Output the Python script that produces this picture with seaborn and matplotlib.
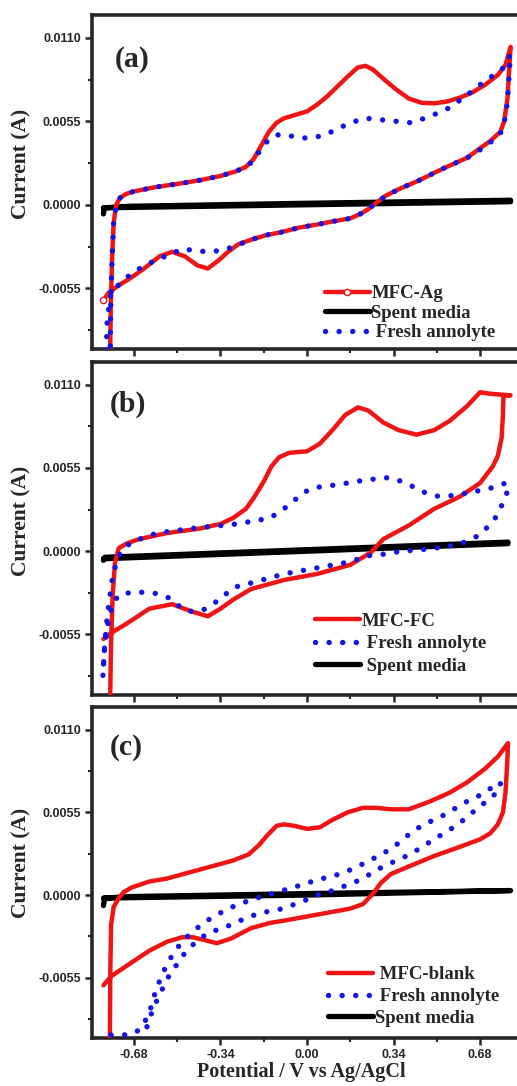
import numpy as np
import pandas as pd
import matplotlib
matplotlib.use("Agg")
import matplotlib.pyplot as plt
from matplotlib.ticker import MultipleLocator, FormatStrFormatter
import seaborn as sns

# ---------------- data (Potential V vs Ag/AgCl, Current A) ----------------
# Panel (a)
a_red_E = [-0.774, -0.771, -0.766, -0.760, -0.750, -0.735, -0.71, -0.68, -0.60, -0.50, -0.42, -0.34,
           -0.28, -0.24, -0.21, -0.18, -0.15, -0.12, -0.09, -0.05, 0.00, 0.04, 0.08, 0.12, 0.16, 0.20,
           0.23, 0.26, 0.30, 0.35, 0.40, 0.45, 0.50, 0.55, 0.60, 0.65, 0.70, 0.75, 0.78, 0.80,
           0.795, 0.788, 0.775, 0.76, 0.72, 0.67, 0.63, 0.55, 0.50, 0.44, 0.37, 0.31, 0.27, 0.24,
           0.21, 0.17, 0.10, 0.04, -0.03, -0.10, -0.16, -0.22, -0.27, -0.31, -0.35, -0.39, -0.43,
           -0.48, -0.53, -0.58, -0.64, -0.70, -0.74, -0.78, -0.80]
a_red_I = [-0.0102, -0.0065, -0.0035, -0.0012, 0.0000, 0.00045, 0.00072, 0.00088, 0.00115, 0.00140,
           0.00162, 0.00190, 0.00220, 0.00250, 0.00300, 0.00390, 0.00480, 0.00540, 0.00570, 0.00590,
           0.00615, 0.00660, 0.00715, 0.00780, 0.00845, 0.00905, 0.00915, 0.00890, 0.00830, 0.00760,
           0.00700, 0.00672, 0.00668, 0.00680, 0.00705, 0.00740, 0.00790, 0.00855, 0.00920, 0.01040,
           0.0090, 0.0070, 0.0055, 0.0048, 0.0042, 0.0036, 0.0031, 0.0025, 0.0021, 0.0016, 0.0011,
           0.0006, 0.0001, -0.0003, -0.0006, -0.0009, -0.0011, -0.0013, -0.0015, -0.0018, -0.0020,
           -0.0023, -0.0026, -0.0031, -0.0037, -0.0042, -0.0040, -0.0034, -0.0031, -0.0034, -0.0042,
           -0.0049, -0.0053, -0.0058, -0.0063]
a_blue_E = [-0.774, -0.771, -0.766, -0.760, -0.750, -0.735, -0.71, -0.68, -0.60, -0.50, -0.42, -0.34,
            -0.28, -0.24, -0.21, -0.18, -0.15, -0.12, -0.08, -0.03, 0.02, 0.07, 0.12, 0.17, 0.23,
            0.29, 0.35, 0.41, 0.48, 0.55, 0.62, 0.68, 0.73, 0.77, 0.80,
            0.795, 0.788, 0.775, 0.76, 0.72, 0.67, 0.63, 0.55, 0.50, 0.44, 0.37, 0.31, 0.27, 0.24,
            0.21, 0.17, 0.10, 0.04, -0.03, -0.10, -0.16, -0.22, -0.28, -0.33, -0.39, -0.45, -0.49,
            -0.54, -0.59, -0.68, -0.73, -0.77, -0.785, -0.79]
a_blue_I = [-0.0102, -0.0065, -0.0035, -0.0012, 0.0000, 0.00045, 0.00072, 0.00088, 0.00115, 0.00140,
            0.00162, 0.00190, 0.00220, 0.00250, 0.0029, 0.0037, 0.0043, 0.0046, 0.0046, 0.0044,
            0.0044, 0.0046, 0.0050, 0.0054, 0.0057, 0.0056, 0.0055, 0.0054, 0.0058, 0.0063, 0.0071,
            0.0079, 0.0085, 0.0090, 0.0099,
            0.0088, 0.0068, 0.0054, 0.0047, 0.0041, 0.0035, 0.0031, 0.0025, 0.0021, 0.0016, 0.0011,
            0.0006, 0.0001, -0.0003, -0.0006, -0.0009, -0.0011, -0.0013, -0.0015, -0.0018, -0.0020,
            -0.0023, -0.0027, -0.0030, -0.0031, -0.0030, -0.0029, -0.0033, -0.0036, -0.0044, -0.0051,
            -0.0058, -0.0075, -0.0100]
a_black_E = [-0.80, -0.797, -0.70, 0.00, 0.80, 0.80, 0.00, -0.80]
a_black_I = [-0.0006, -0.0002, -0.0001, 0.0001, 0.0003, 0.0002, 0.0000, -0.0002]

# Panel (b)
b_red_E = [-0.774, -0.770, -0.764, -0.755, -0.74, -0.71, -0.66, -0.55, -0.42, -0.34, -0.29, -0.24,
           -0.21, -0.17, -0.14, -0.11, -0.07, 0.00, 0.05, 0.10, 0.15, 0.20, 0.24, 0.30, 0.36, 0.43,
           0.50, 0.56, 0.63, 0.68, 0.72, 0.80,
           0.772, 0.770, 0.765, 0.75, 0.73, 0.68, 0.60, 0.50, 0.40, 0.30, 0.25, 0.21, 0.17, 0.04,
           -0.09, -0.22, -0.29, -0.34, -0.39, -0.45, -0.53, -0.62, -0.71, -0.77, -0.80]
b_red_I = [-0.0100, -0.0060, -0.0030, -0.0008, 0.0002, 0.0005, 0.0008, 0.0012, 0.0015, 0.0018, 0.0022,
           0.0028, 0.0035, 0.0046, 0.0056, 0.0062, 0.0065, 0.0066, 0.0071, 0.0080, 0.0090, 0.0095,
           0.0093, 0.0085, 0.0080, 0.0077, 0.0080, 0.0086, 0.0096, 0.0105, 0.0104, 0.0103,
           0.0103, 0.0090, 0.0075, 0.0063, 0.0056, 0.0045, 0.0036, 0.0028, 0.0017, 0.0008, -0.0001,
           -0.0005, -0.0009, -0.0015, -0.0019, -0.0025, -0.0032, -0.0038, -0.0043, -0.0040, -0.0035,
           -0.0038, -0.0048, -0.0054, -0.0058]
b_blue_E = [-0.802, -0.795, -0.786, -0.775, -0.765, -0.75, -0.73, -0.69, -0.59, -0.43, -0.29, -0.19,
            -0.145, -0.106, -0.06, -0.015, 0.03, 0.13, 0.228, 0.32, 0.366, 0.417, 0.464, 0.51, 0.555,
            0.64, 0.73, 0.785,
            0.785, 0.77, 0.745, 0.71, 0.67, 0.62, 0.55, 0.45, 0.37, 0.30, 0.24, 0.17, 0.04, -0.09,
            -0.22, -0.29, -0.33, -0.37, -0.41, -0.45, -0.49, -0.54, -0.59, -0.66, -0.73, -0.76,
            -0.78, -0.795, -0.802]
b_blue_I = [-0.0082, -0.0062, -0.0045, -0.0030, -0.0018, -0.0008, 0.0000, 0.0006, 0.0012, 0.00155,
            0.00177, 0.00205, 0.00221, 0.00261, 0.0032, 0.00387, 0.0042, 0.00442, 0.0047, 0.00486,
            0.00464, 0.00426, 0.00387, 0.00364, 0.00364, 0.00387, 0.00420, 0.00453,
            0.0038, 0.0032, 0.0023, 0.0016, 0.0010, 0.0006, 0.0003, 0.0001, 0.0000, -0.0002, -0.0003,
            -0.0007, -0.0011, -0.0015, -0.0021, -0.0024, -0.0030, -0.0035, -0.0039, -0.0040, -0.0038,
            -0.0031, -0.0028, -0.0027, -0.0028, -0.0033, -0.0045, -0.0062, -0.0082]
b_black_E = [-0.80, -0.795, 0.00, 0.79, 0.79, 0.00, -0.80]
b_black_I = [-0.0006, -0.0004, 0.0001, 0.0006, 0.0005, 0.0000, -0.0005]

# Panel (c)
c_red_E = [-0.775, -0.773, -0.770, -0.760, -0.74, -0.72, -0.69, -0.62, -0.55, -0.42, -0.29, -0.23,
           -0.19, -0.16, -0.12, -0.09, -0.05, 0.00, 0.05, 0.10, 0.16, 0.22, 0.27, 0.33, 0.40, 0.48,
           0.56, 0.63, 0.70, 0.75, 0.79,
           0.787, 0.780, 0.77, 0.75, 0.72, 0.68, 0.60, 0.50, 0.40, 0.33, 0.29, 0.26, 0.22, 0.17,
           0.04, -0.09, -0.145, -0.22, -0.30, -0.354, -0.40, -0.45, -0.49, -0.55, -0.62, -0.70,
           -0.77, -0.80]
c_red_I = [-0.0100, -0.0050, -0.0020, -0.0008, -0.0002, 0.0002, 0.0005, 0.0009, 0.0011, 0.0017,
           0.0023, 0.0027, 0.0033, 0.0039, 0.0046, 0.0047, 0.0046, 0.0044, 0.0045, 0.0050, 0.0055,
           0.0058, 0.0058, 0.0057, 0.0057, 0.0062, 0.0068, 0.0075, 0.0084, 0.0092, 0.0101,
           0.0088, 0.0068, 0.0055, 0.0047, 0.0041, 0.0037, 0.0032, 0.0026, 0.0019, 0.0014, 0.0008,
           0.0001, -0.0006, -0.0009, -0.0013, -0.0017, -0.00185, -0.0022, -0.0029, -0.0032, -0.0030,
           -0.0028, -0.0028, -0.0031, -0.0037, -0.0046, -0.0054, -0.0060]
c_blue_E = [-0.77, -0.72, -0.68, -0.656, -0.637, -0.617, -0.605, -0.586, -0.57, -0.547, -0.519, -0.48,
            -0.44, -0.393, -0.342, -0.295, -0.25, -0.197, -0.157, -0.055, 0.039, 0.141, 0.236, 0.334,
            0.377, 0.42, 0.472, 0.515, 0.566, 0.637, 0.688, 0.731, 0.76,
            0.76, 0.727, 0.68, 0.637, 0.594, 0.547, 0.499, 0.452, 0.405, 0.299, 0.208, 0.102, 0.039,
            0.0, -0.094, -0.185, -0.236, -0.283, -0.33, -0.389, -0.448, -0.487, -0.519, -0.547, -0.57,
            -0.59, -0.61, -0.63, -0.645]
c_blue_I = [-0.0093, -0.0093, -0.0092, -0.0089, -0.0084, -0.0077, -0.0069, -0.0060, -0.0053, -0.0045,
            -0.0037, -0.0029, -0.0023, -0.0017, -0.0012, -0.0008, -0.0005, -0.0002, 0.0000, 0.0005,
            0.0010, 0.00145, 0.0022, 0.0031, 0.0037, 0.0043, 0.0048, 0.0051, 0.0056, 0.0063, 0.0067,
            0.0072, 0.0075,
            0.0071, 0.0065, 0.0059, 0.0053, 0.0047, 0.0042, 0.0037, 0.0032, 0.0027, 0.0019, 0.0010,
            0.0003, 0.0000, -0.0003, -0.0009, -0.0012, -0.0015, -0.00185, -0.0022, -0.0025, -0.0033,
            -0.0040, -0.0048, -0.0055, -0.0063, -0.0070, -0.0078, -0.0088, -0.0098]
c_black_E = [-0.80, -0.795, -0.70, 0.00, 0.80, 0.80, 0.00, -0.80]
c_black_I = [-0.0007, -0.0002, -0.0001, 0.0001, 0.0003, 0.0003, 0.0000, -0.0002]

panel_tags = ["(a)", "(b)", "(c)"]
x_ticks = [-0.68, -0.34, 0.00, 0.34, 0.68]
y_ticks = [-0.0055, 0.0000, 0.0055, 0.0110]

# ---------------- style ----------------
sns.set_style("ticks")
plt.rcParams["font.family"] = ["Liberation Serif", "DejaVu Serif"]
plt.rcParams["font.weight"] = "bold"

RED = "#f01414"
BLUE = "#1414e6"
BLACK = "#000000"
SERIF = ["Liberation Serif", "DejaVu Serif"]
SANS = ["Liberation Sans", "DejaVu Sans"]

fig = plt.figure(figsize=(5.17, 10.86), dpi=100)
L, W = 92 / 517, (522 - 92) / 517
rects = [(L, 1 - 349 / 1086, W, 334 / 1086),
         (L, 1 - 695 / 1086, W, 333 / 1086),
         (L, 1 - 1038 / 1086, W, 331 / 1086)]

panels = [
    (a_red_E, a_red_I, a_blue_E, a_blue_I, a_black_E, a_black_I),
    (b_red_E, b_red_I, b_blue_E, b_blue_I, b_black_E, b_black_I),
    (c_red_E, c_red_I, c_blue_E, c_blue_I, c_black_E, c_black_I),
]
legend_orders = [["red", "black", "blue"], ["red", "blue", "black"], ["red", "blue", "black"]]
legend_texts = {
    0: {"red": "MFC-Ag", "black": "Spent media", "blue": " Fresh annolyte"},
    1: {"red": "MFC-FC", "black": " Spent media", "blue": " Fresh annolyte"},
    2: {"red": " MFC-blank", "black": "Spent media", "blue": " Fresh annolyte"},
}
legend_anchor = [(0.532, 0.012), (0.510, 0.050), (0.540, 0.022)]
legend_spacing = [0.12, 0.28, 0.25]
tag_pos = [(0.053, 0.908), (0.042, 0.915), (0.042, 0.918)]
ylabel_y = [0.554, 0.524, 0.530]

dot_style = (0, (0.01, 2.5))

for i, (rect, d) in enumerate(zip(rects, panels)):
    ax = fig.add_axes(rect)
    rE, rI, bE, bI, kE, kI = d
    df_k = pd.DataFrame({"E": kE, "I": kI})
    df_r = pd.DataFrame({"E": rE, "I": rI})
    df_b = pd.DataFrame({"E": bE, "I": bI})

    sns.lineplot(data=df_k, x="E", y="I", sort=False, estimator=None, ax=ax,
                 color=BLACK, linewidth=3.8, solid_capstyle="round", zorder=2, legend=False)
    red_kw = dict(color=RED, linewidth=3.2, solid_capstyle="round", zorder=3, legend=False)
    if i == 0:
        red_kw.update(marker="o", markevery=[len(rE) - 1], markersize=4.5,
                      markerfacecolor="white", markeredgecolor=RED, markeredgewidth=1.0)
    sns.lineplot(data=df_r, x="E", y="I", sort=False, estimator=None, ax=ax, **red_kw)
    sns.lineplot(data=df_b, x="E", y="I", sort=False, estimator=None, ax=ax,
                 color=BLUE, linewidth=3.9, linestyle=dot_style, dash_capstyle="round",
                 zorder=4, legend=False)

    lines = ax.get_lines()
    handle_map = {"black": lines[0], "red": lines[1], "blue": lines[2]}
    order = legend_orders[i]
    ax.legend([handle_map[k] for k in order], [legend_texts[i][k] for k in order],
              loc="lower left", bbox_to_anchor=legend_anchor[i], frameon=False,
              prop={"family": SERIF, "weight": "bold", "size": 13.5},
              handlelength=2.4, handletextpad=0.1, labelspacing=legend_spacing[i],
              borderpad=0.2, borderaxespad=0.0)

    ax.set_xlim(-0.845, 0.845)
    ax.set_ylim(-0.0095, 0.0125)
    ax.xaxis.set_major_locator(MultipleLocator(0.34))
    ax.xaxis.set_minor_locator(MultipleLocator(0.17))
    ax.yaxis.set_major_locator(MultipleLocator(0.0055))
    ax.yaxis.set_minor_locator(MultipleLocator(0.00275))
    ax.yaxis.set_major_formatter(FormatStrFormatter("%.4f"))
    ax.xaxis.set_major_formatter(FormatStrFormatter("%.2f"))
    ax.tick_params(axis="both", which="major", direction="out", length=5, width=1.8,
                   labelsize=9)
    ax.tick_params(axis="y", which="major", pad=3)
    ax.tick_params(axis="x", which="major", pad=3)
    ax.tick_params(axis="both", which="minor", direction="out", length=3, width=1.5)
    for lab in ax.get_yticklabels() + ax.get_xticklabels():
        lab.set_fontfamily(SANS)
        lab.set_fontweight("bold")
    if i < 2:
        ax.tick_params(axis="x", which="both", labelbottom=False)
    for s in ax.spines.values():
        s.set_linewidth(2.6)
        s.set_visible(True)

    ax.set_ylabel("Current (A)", fontsize=15.5, fontweight="bold", fontfamily=SERIF)
    ax.yaxis.set_label_coords(-0.14, ylabel_y[i])
    if i == 2:
        ax.set_xlabel("Potential / V vs Ag/AgCl", fontsize=14.5, fontweight="bold",
                      fontfamily=SERIF)
        ax.xaxis.set_label_coords(0.486, -0.071)
    else:
        ax.set_xlabel("")

    ax.text(tag_pos[i][0], tag_pos[i][1], panel_tags[i], transform=ax.transAxes,
            ha="left", va="top", fontsize=21.5, fontweight="bold", fontfamily=SERIF)

fig.savefig("out.png", dpi=100)
